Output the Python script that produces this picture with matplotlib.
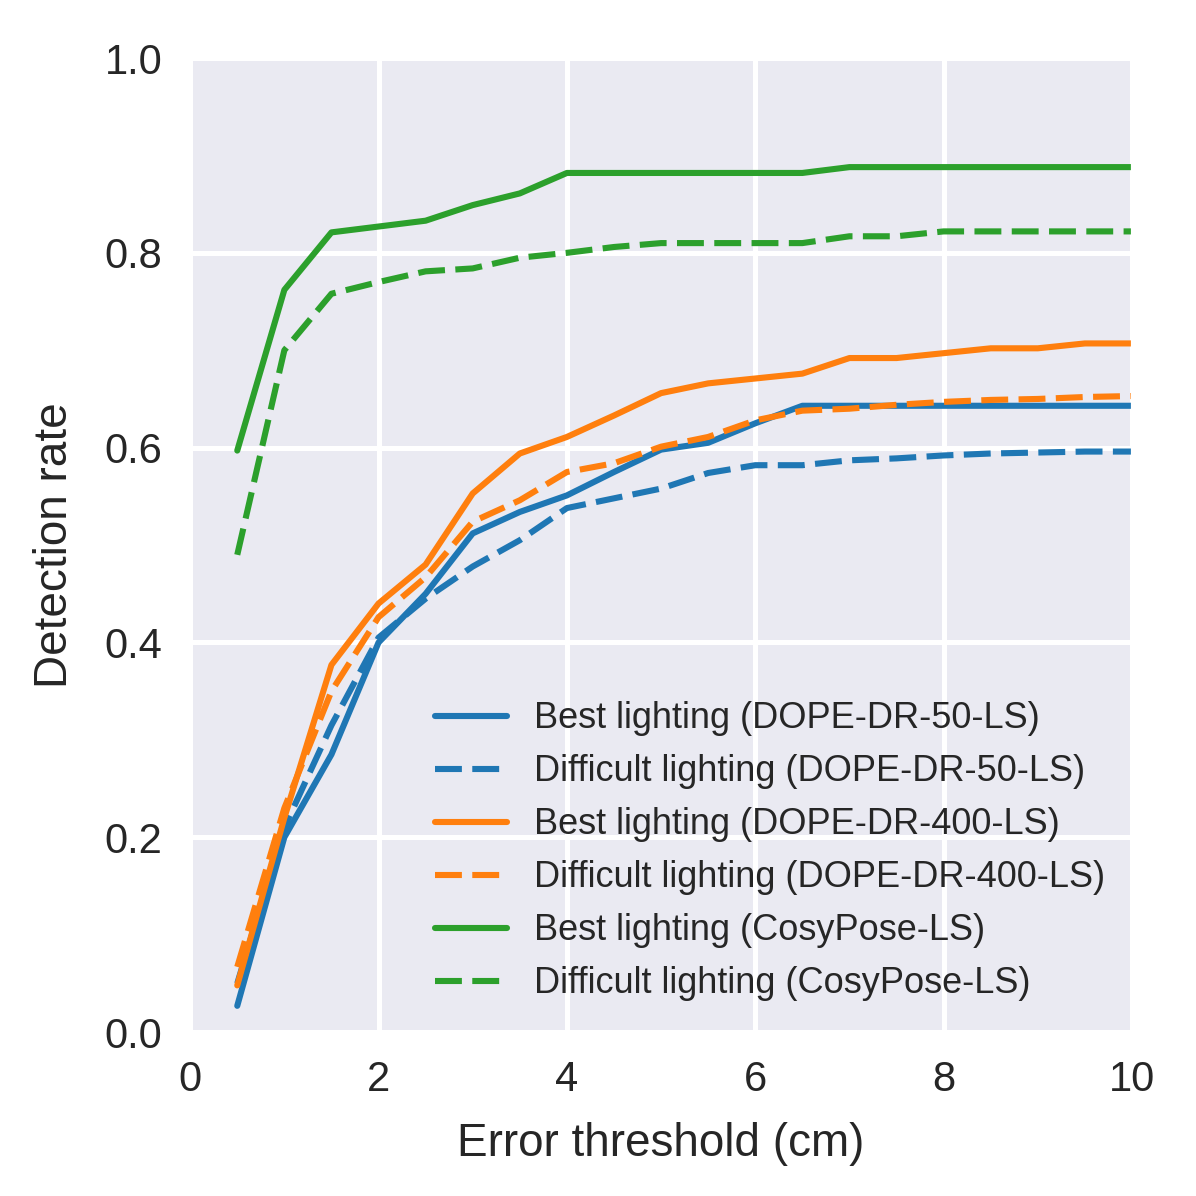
import matplotlib
matplotlib.use('Agg')
import matplotlib.pyplot as plt
import seaborn as sns

# error thresholds (cm)
thresholds = [0.5, 1.0, 1.5, 2.0, 2.5, 3.0, 3.5, 4.0, 4.5, 5.0,
              5.5, 6.0, 6.5, 7.0, 7.5, 8.0, 8.5, 9.0, 9.5, 10.0]

# detection rates
dope50_best = [0.027, 0.200, 0.285, 0.400, 0.450, 0.512, 0.534, 0.551, 0.575, 0.598,
               0.605, 0.625, 0.643, 0.643, 0.643, 0.643, 0.643, 0.643, 0.643, 0.643]
dope50_hard = [0.050, 0.210, 0.315, 0.405, 0.445, 0.478, 0.505, 0.538, 0.548, 0.558,
               0.574, 0.582, 0.582, 0.587, 0.589, 0.592, 0.594, 0.595, 0.596, 0.596]
dope400_best = [0.048, 0.220, 0.377, 0.440, 0.480, 0.553, 0.594, 0.611, 0.633, 0.656,
                0.666, 0.671, 0.676, 0.692, 0.692, 0.697, 0.702, 0.702, 0.707, 0.707]
dope400_hard = [0.067, 0.230, 0.350, 0.426, 0.467, 0.524, 0.546, 0.575, 0.584, 0.601,
                0.611, 0.628, 0.638, 0.640, 0.644, 0.647, 0.649, 0.650, 0.652, 0.653]
cosy_best = [0.597, 0.762, 0.821, 0.827, 0.833, 0.849, 0.861, 0.882, 0.882, 0.882,
             0.882, 0.882, 0.882, 0.888, 0.888, 0.888, 0.888, 0.888, 0.888, 0.888]
cosy_hard = [0.490, 0.700, 0.758, 0.770, 0.781, 0.784, 0.795, 0.800, 0.806, 0.810,
             0.810, 0.810, 0.810, 0.817, 0.817, 0.822, 0.822, 0.822, 0.822, 0.822]

series = [
    (dope50_best, '#1f77b4', '-', 'Best lighting (DOPE-DR-50-LS)'),
    (dope50_hard, '#1f77b4', '--', 'Difficult lighting (DOPE-DR-50-LS)'),
    (dope400_best, '#ff7f0e', '-', 'Best lighting (DOPE-DR-400-LS)'),
    (dope400_hard, '#ff7f0e', '--', 'Difficult lighting (DOPE-DR-400-LS)'),
    (cosy_best, '#2ca02c', '-', 'Best lighting (CosyPose-LS)'),
    (cosy_hard, '#2ca02c', '--', 'Difficult lighting (CosyPose-LS)'),
]

sns.set_style('darkgrid')
plt.rcParams['font.family'] = ['Liberation Sans', 'DejaVu Sans']

fig = plt.figure(figsize=(5.98, 5.98), dpi=200)
ax = fig.add_axes([0.159, 0.137, 0.7875, 0.8145])

for values, color, style, label in series:
    if style == '--':
        ax.plot(thresholds, values, color=color, lw=2.2, dashes=(4.4, 1.7), label=label)
    else:
        ax.plot(thresholds, values, color=color, lw=2.2, label=label)

ax.set_xlim(0, 10)
ax.set_ylim(0, 1.0)
ax.set_xticks([0, 2, 4, 6, 8, 10])
ax.set_yticks([0.0, 0.2, 0.4, 0.6, 0.8, 1.0])
ax.set_yticklabels(['0.0', '0.2', '0.4', '0.6', '0.8', '1.0'])
ax.tick_params(axis='both', labelsize=15, pad=10, colors='#262626', length=0)
ax.grid(color='white', lw=1.8)

ax.set_xlabel('Error threshold (cm)', fontsize=16.5, color='#262626', labelpad=8)
ax.set_ylabel('Detection rate', fontsize=16.5, color='#262626', labelpad=10)

leg = ax.legend(loc='lower right', fontsize=13, frameon=False,
                handlelength=2.0, handletextpad=0.75, labelspacing=0.5,
                borderaxespad=0.45, bbox_to_anchor=(1.004, 0.0))
for t in leg.get_texts():
    t.set_color('#262626')

fig.savefig('out.png', dpi=200, facecolor='white')
